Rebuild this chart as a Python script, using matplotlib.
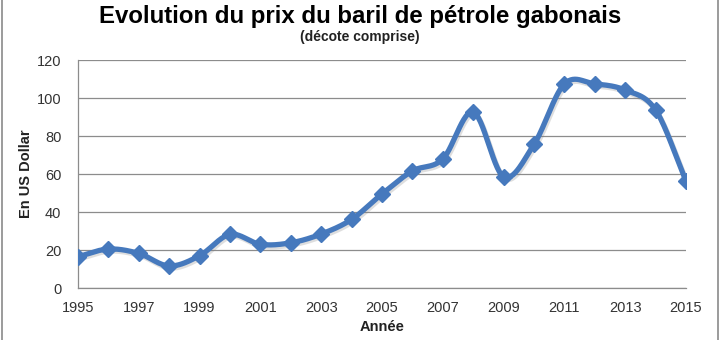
import numpy as np
import matplotlib.pyplot as plt
import matplotlib.patheffects as pe
from matplotlib.lines import Line2D

plt.rcParams['font.family'] = ['Liberation Sans', 'DejaVu Sans']

# Prix annuel du baril (USD)
annees = [1995, 1996, 1997, 1998, 1999, 2000, 2001, 2002, 2003, 2004, 2005,
          2006, 2007, 2008, 2009, 2010, 2011, 2012, 2013, 2014, 2015]
prix = [16.5, 20.5, 18.2, 11.6, 17.0, 28.2, 23.0, 23.8, 28.4, 36.1, 49.5,
        61.6, 67.9, 92.6, 58.6, 75.6, 107.4, 107.4, 104.2, 93.7, 56.3]
ticks_x = list(range(1995, 2016, 2))
ticks_y = [0, 20, 40, 60, 80, 100, 120]

BLEU = '#4679BD'
GRIS = '#8c8c8c'


def lissage(x, y, n=30):
    """Courbe lissee type Catmull-Rom passant par tous les points."""
    x = np.asarray(x, float)
    y = np.asarray(y, float)
    px = np.concatenate([[2 * x[0] - x[1]], x, [2 * x[-1] - x[-2]]])
    py = np.concatenate([[2 * y[0] - y[1]], y, [2 * y[-1] - y[-2]]])
    t = np.linspace(0, 1, n)[:, None]
    xs, ys = [], []
    for i in range(1, len(px) - 2):
        p = np.array([[px[i - 1], py[i - 1]], [px[i], py[i]],
                      [px[i + 1], py[i + 1]], [px[i + 2], py[i + 2]]])
        seg = 0.5 * ((2 * p[1]) + (-p[0] + p[2]) * t
                     + (2 * p[0] - 5 * p[1] + 4 * p[2] - p[3]) * t ** 2
                     + (-p[0] + 3 * p[1] - 3 * p[2] + p[3]) * t ** 3)
        xs.append(seg[:, 0])
        ys.append(seg[:, 1])
    return np.concatenate(xs), np.concatenate(ys)


fig = plt.figure(figsize=(7.2, 3.4), dpi=100)
ax = fig.add_axes([78 / 720, 52 / 340, 608 / 720, 228 / 340])

xs, ys = lissage(annees, prix)
ombre = [pe.SimpleLineShadow(offset=(1, -1.5), shadow_color='#7f7f7f', alpha=0.25),
         pe.Normal()]
ax.plot(xs, ys, color=BLEU, lw=3.8, solid_capstyle='round', zorder=3,
        path_effects=ombre)
ax.plot(annees, prix, linestyle='none', marker='D', ms=8, color=BLEU,
        mec=BLEU, zorder=4)

ax.set_xlim(1995, 2015)
ax.set_ylim(0, 120)
ax.set_xticks(ticks_x)
ax.set_yticks(ticks_y)
ax.tick_params(length=0, labelsize=10.5, colors='#333333')
ax.tick_params(axis='x', pad=9)
ax.tick_params(axis='y', pad=12)
ax.yaxis.grid(True, color=GRIS, lw=0.9)
ax.set_axisbelow(True)
for s in ['top', 'right']:
    ax.spines[s].set_visible(False)
for s in ['left', 'bottom']:
    ax.spines[s].set_color(GRIS)
    ax.spines[s].set_linewidth(0.9)

ax.set_xlabel('Année', fontsize=10.5, fontweight='bold', labelpad=4,
              color='#222222')
ax.set_ylabel('En US Dollar', fontsize=10.5, fontweight='bold', labelpad=3,
              color='#222222')

fig.text(0.5, 1 - 17 / 340, 'Evolution du prix du baril de pétrole gabonais',
         ha='center', va='center', fontsize=17.3, fontweight='bold')
fig.text(0.5, 1 - 37 / 340, '(décote comprise)', ha='center', va='center',
         fontsize=10, fontweight='bold', color='#222222')

# cadre lateral du graphique
for xb in [1.5 / 720, 718 / 720]:
    fig.add_artist(Line2D([xb, xb], [0, 1], color='#8a8a8a', lw=1.2,
                          transform=fig.transFigure))

fig.savefig('out.png', dpi=100, facecolor='white')
